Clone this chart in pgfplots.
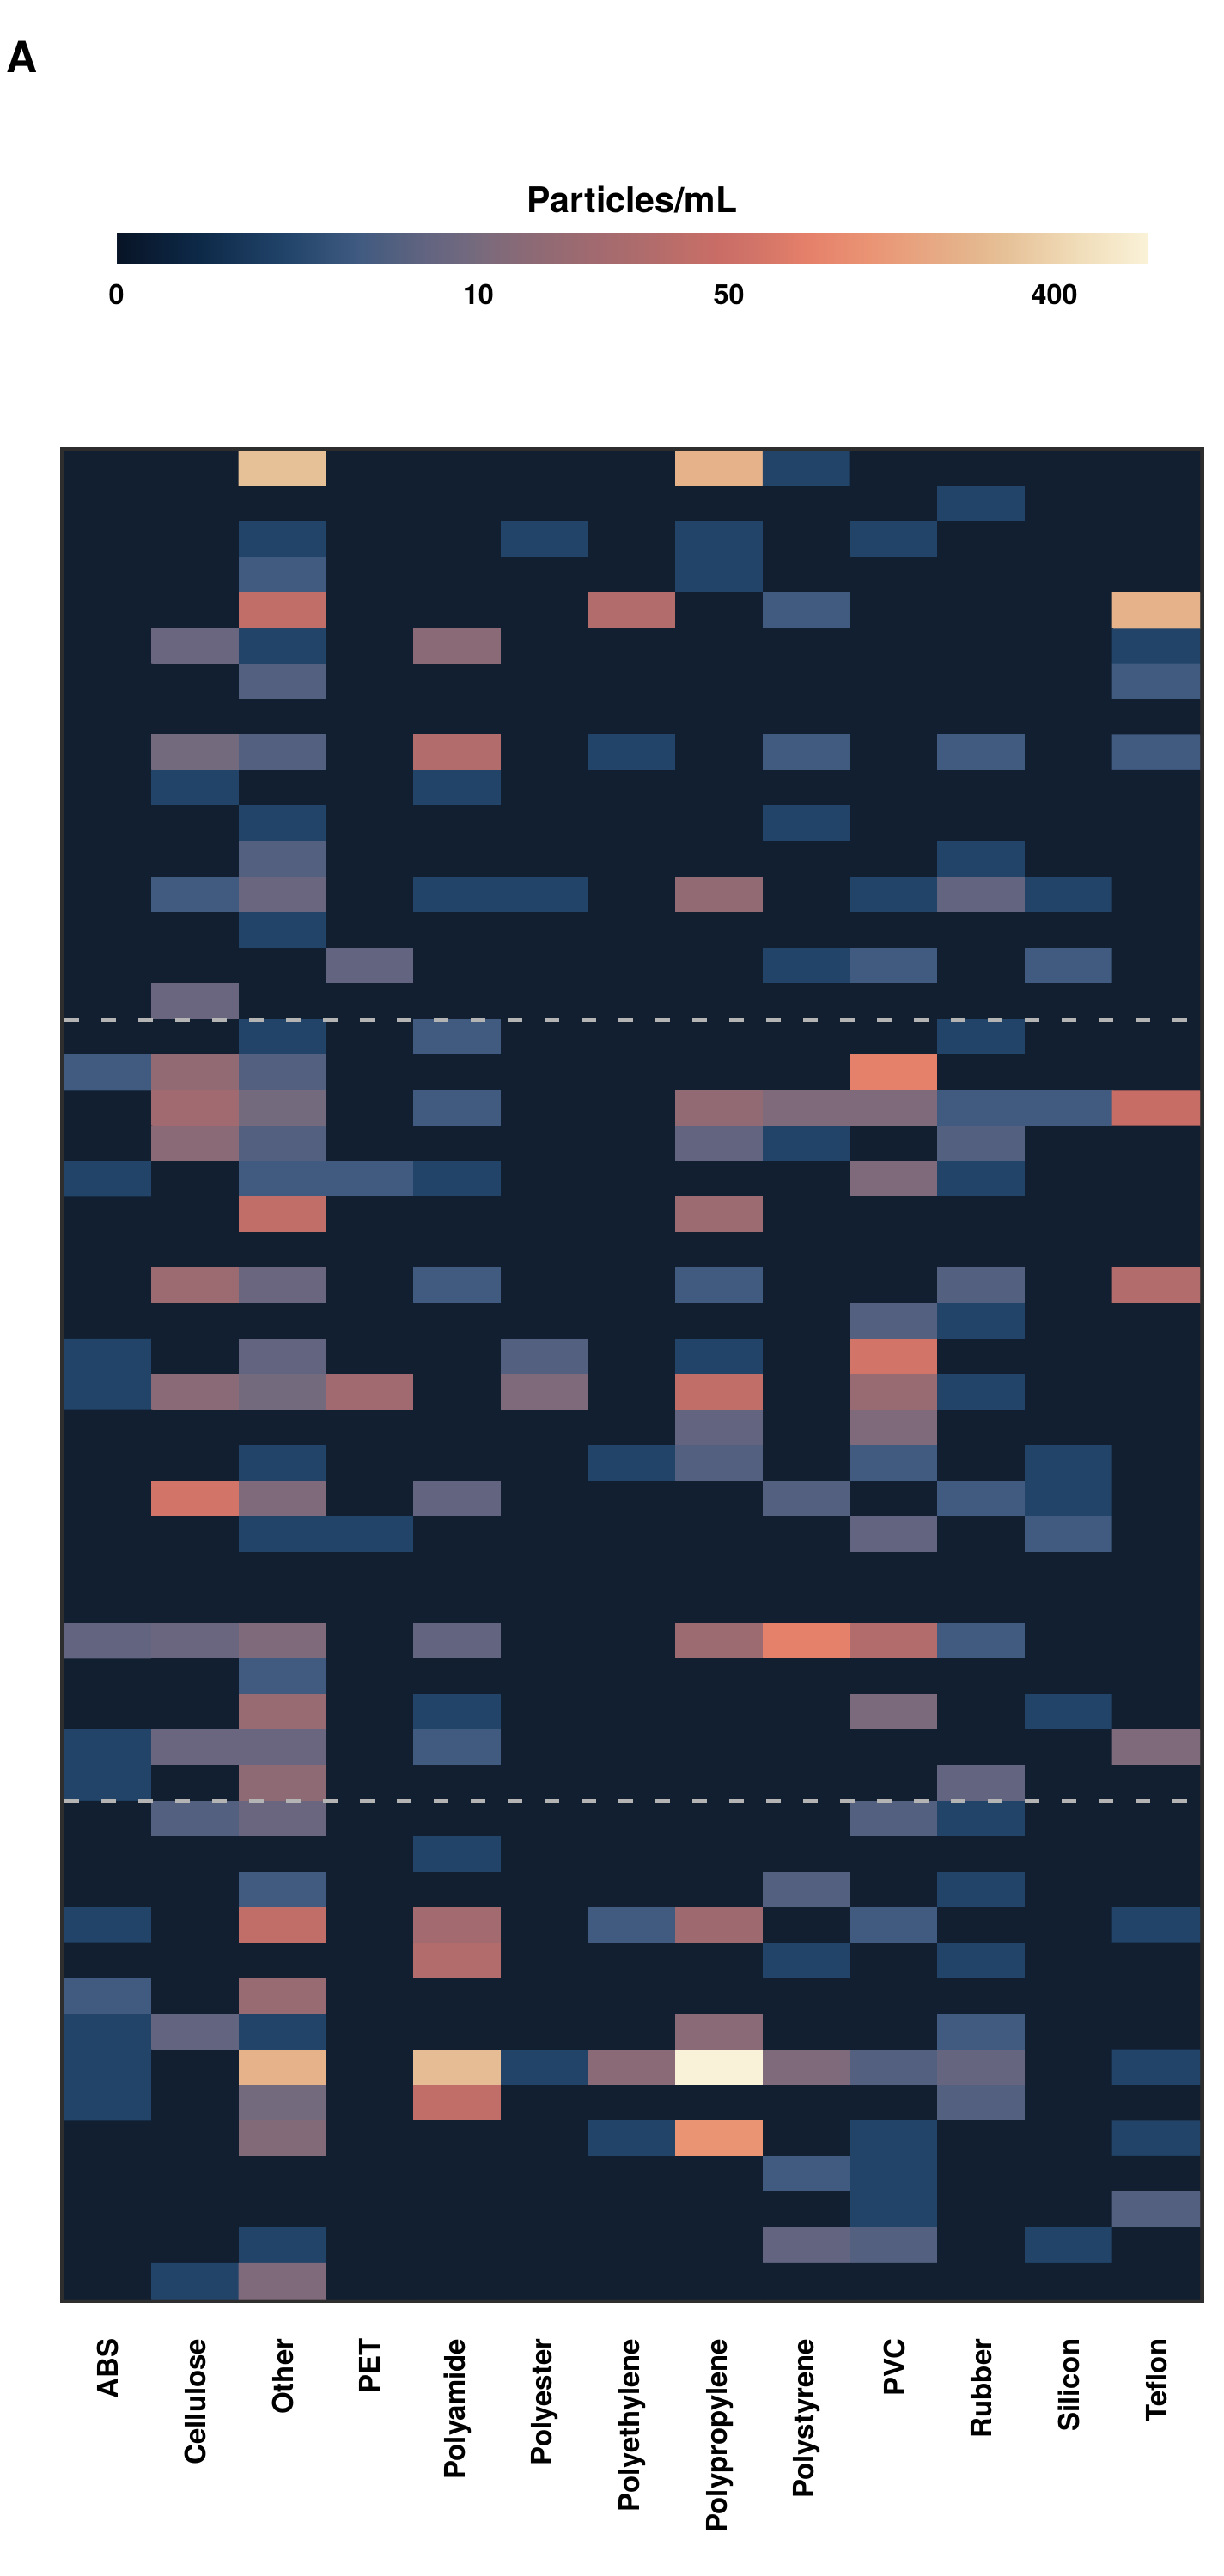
\documentclass[border=0pt]{standalone}
\usepackage{pgfplots}
\pgfplotsset{compat=1.18}
\usepackage{pgfplotstable}
\usepackage{fontspec}
\setmainfont{TeX Gyre Heros}

\definecolor{framegray}{RGB}{46,46,46}
\definecolor{dashgray}{RGB}{180,180,180}

\pgfplotsset{colormap={lipari}{
rgb255(0pt)=(17,31,49)
rgb255(1pt)=(8,20,38)
rgb255(80pt)=(13,41,72)
rgb255(165pt)=(34,68,106)
rgb255(235pt)=(64,90,128)
rgb255(270pt)=(82,96,127)
rgb255(300pt)=(98,100,128)
rgb255(320pt)=(106,102,128)
rgb255(345pt)=(116,106,126)
rgb255(365pt)=(126,106,122)
rgb255(395pt)=(138,106,118)
rgb255(420pt)=(146,106,115)
rgb255(435pt)=(152,106,114)
rgb255(460pt)=(160,106,112)
rgb255(520pt)=(178,108,107)
rgb255(560pt)=(194,110,104)
rgb255(580pt)=(200,108,102)
rgb255(620pt)=(210,116,104)
rgb255(670pt)=(229,128,106)
rgb255(730pt)=(234,148,116)
rgb255(820pt)=(229,178,138)
rgb255(860pt)=(230,192,151)
rgb255(931pt)=(240,220,184)
rgb255(1000pt)=(250,242,216)
}}

% Particles/mL, 52 samples (rows, top to bottom) x 13 polymer types (columns)
\pgfplotstableread[row sep=\\]{
v\\
0\\ 0\\ 289\\ 0\\ 0\\ 0\\ 0\\ 222\\ 2.6\\ 0\\ 0\\ 0\\ 0\\
0\\ 0\\ 0\\ 0\\ 0\\ 0\\ 0\\ 0\\ 0\\ 0\\ 2.6\\ 0\\ 0\\
0\\ 0\\ 2.6\\ 0\\ 0\\ 2.6\\ 0\\ 2.6\\ 0\\ 2.6\\ 0\\ 0\\ 0\\
0\\ 0\\ 4.5\\ 0\\ 0\\ 0\\ 0\\ 2.6\\ 0\\ 0\\ 0\\ 0\\ 0\\
0\\ 0\\ 40\\ 0\\ 0\\ 0\\ 30.7\\ 0\\ 4.5\\ 0\\ 0\\ 0\\ 222\\
0\\ 8.1\\ 2.6\\ 0\\ 13.4\\ 0\\ 0\\ 0\\ 0\\ 0\\ 0\\ 0\\ 2.6\\
0\\ 0\\ 5.8\\ 0\\ 0\\ 0\\ 0\\ 0\\ 0\\ 0\\ 0\\ 0\\ 4.5\\
0\\ 0\\ 0\\ 0\\ 0\\ 0\\ 0\\ 0\\ 0\\ 0\\ 0\\ 0\\ 0\\
0\\ 9.6\\ 5.8\\ 0\\ 30.7\\ 0\\ 2.6\\ 0\\ 4.5\\ 0\\ 4.5\\ 0\\ 4.5\\
0\\ 2.6\\ 0\\ 0\\ 2.6\\ 0\\ 0\\ 0\\ 0\\ 0\\ 0\\ 0\\ 0\\
0\\ 0\\ 2.6\\ 0\\ 0\\ 0\\ 0\\ 0\\ 2.6\\ 0\\ 0\\ 0\\ 0\\
0\\ 0\\ 5.8\\ 0\\ 0\\ 0\\ 0\\ 0\\ 0\\ 0\\ 2.6\\ 0\\ 0\\
0\\ 4.5\\ 8.1\\ 0\\ 2.6\\ 2.6\\ 0\\ 15.8\\ 0\\ 2.6\\ 7.1\\ 2.6\\ 0\\
0\\ 0\\ 2.6\\ 0\\ 0\\ 0\\ 0\\ 0\\ 0\\ 0\\ 0\\ 0\\ 0\\
0\\ 0\\ 0\\ 7.1\\ 0\\ 0\\ 0\\ 0\\ 2.6\\ 4.5\\ 0\\ 4.5\\ 0\\
0\\ 8.1\\ 0\\ 0\\ 0\\ 0\\ 0\\ 0\\ 0\\ 0\\ 0\\ 0\\ 0\\
0\\ 0\\ 2.6\\ 0\\ 4.5\\ 0\\ 0\\ 0\\ 0\\ 0\\ 2.6\\ 0\\ 0\\
4.5\\ 15.8\\ 5.8\\ 0\\ 0\\ 0\\ 0\\ 0\\ 0\\ 82.7\\ 0\\ 0\\ 0\\
0\\ 20.7\\ 9.6\\ 0\\ 4.5\\ 0\\ 0\\ 15.8\\ 11\\ 11\\ 4.5\\ 4.5\\ 45.7\\
0\\ 13.4\\ 5.8\\ 0\\ 0\\ 0\\ 0\\ 7.1\\ 2.6\\ 0\\ 5.8\\ 0\\ 0\\
2.6\\ 0\\ 4.5\\ 4.5\\ 2.6\\ 0\\ 0\\ 0\\ 0\\ 11\\ 2.6\\ 0\\ 0\\
0\\ 0\\ 40\\ 0\\ 0\\ 0\\ 0\\ 19\\ 0\\ 0\\ 0\\ 0\\ 0\\
0\\ 0\\ 0\\ 0\\ 0\\ 0\\ 0\\ 0\\ 0\\ 0\\ 0\\ 0\\ 0\\
0\\ 19\\ 8.1\\ 0\\ 4.5\\ 0\\ 0\\ 4.5\\ 0\\ 0\\ 5.8\\ 0\\ 30.7\\
0\\ 0\\ 0\\ 0\\ 0\\ 0\\ 0\\ 0\\ 0\\ 5.8\\ 2.6\\ 0\\ 0\\
2.6\\ 0\\ 7.1\\ 0\\ 0\\ 5.8\\ 0\\ 2.6\\ 0\\ 59.4\\ 0\\ 0\\ 0\\
2.6\\ 13.4\\ 9.6\\ 20.7\\ 0\\ 11\\ 0\\ 40\\ 0\\ 17.5\\ 2.6\\ 0\\ 0\\
0\\ 0\\ 0\\ 0\\ 0\\ 0\\ 0\\ 7.1\\ 0\\ 11\\ 0\\ 0\\ 0\\
0\\ 0\\ 2.6\\ 0\\ 0\\ 0\\ 2.6\\ 5.8\\ 0\\ 4.5\\ 0\\ 2.6\\ 0\\
0\\ 59.4\\ 11\\ 0\\ 7.1\\ 0\\ 0\\ 0\\ 5.8\\ 0\\ 4.5\\ 2.6\\ 0\\
0\\ 0\\ 2.6\\ 2.6\\ 0\\ 0\\ 0\\ 0\\ 0\\ 7.1\\ 0\\ 4.5\\ 0\\
0\\ 0\\ 0\\ 0\\ 0\\ 0\\ 0\\ 0\\ 0\\ 0\\ 0\\ 0\\ 0\\
0\\ 0\\ 0\\ 0\\ 0\\ 0\\ 0\\ 0\\ 0\\ 0\\ 0\\ 0\\ 0\\
7.1\\ 8.1\\ 11\\ 0\\ 7.1\\ 0\\ 0\\ 19\\ 82.7\\ 30.7\\ 4.5\\ 0\\ 0\\
0\\ 0\\ 4.5\\ 0\\ 0\\ 0\\ 0\\ 0\\ 0\\ 0\\ 0\\ 0\\ 0\\
0\\ 0\\ 17.5\\ 0\\ 2.6\\ 0\\ 0\\ 0\\ 0\\ 10.5\\ 0\\ 2.6\\ 0\\
2.6\\ 8.1\\ 8.1\\ 0\\ 4.5\\ 0\\ 0\\ 0\\ 0\\ 0\\ 0\\ 0\\ 11\\
2.6\\ 0\\ 14.5\\ 0\\ 0\\ 0\\ 0\\ 0\\ 0\\ 0\\ 7.1\\ 0\\ 0\\
0\\ 5.8\\ 8.1\\ 0\\ 0\\ 0\\ 0\\ 0\\ 0\\ 5.8\\ 2.6\\ 0\\ 0\\
0\\ 0\\ 0\\ 0\\ 2.6\\ 0\\ 0\\ 0\\ 0\\ 0\\ 0\\ 0\\ 0\\
0\\ 0\\ 4.5\\ 0\\ 0\\ 0\\ 0\\ 0\\ 5.8\\ 0\\ 2.6\\ 0\\ 0\\
2.6\\ 0\\ 40\\ 0\\ 22\\ 0\\ 4.5\\ 20\\ 0\\ 4.5\\ 0\\ 0\\ 2.6\\
0\\ 0\\ 0\\ 0\\ 30.7\\ 0\\ 0\\ 0\\ 2.6\\ 0\\ 2.6\\ 0\\ 0\\
4.5\\ 0\\ 17.5\\ 0\\ 0\\ 0\\ 0\\ 0\\ 0\\ 0\\ 0\\ 0\\ 0\\
2.6\\ 7.1\\ 2.6\\ 0\\ 0\\ 0\\ 0\\ 13.4\\ 0\\ 0\\ 4.5\\ 0\\ 0\\
2.6\\ 0\\ 222\\ 0\\ 270\\ 2.6\\ 13.4\\ 727\\ 11\\ 5.8\\ 7.6\\ 0\\ 2.6\\
2.6\\ 0\\ 9.6\\ 0\\ 40\\ 0\\ 0\\ 0\\ 0\\ 0\\ 5.8\\ 0\\ 0\\
0\\ 0\\ 12\\ 0\\ 0\\ 0\\ 2.6\\ 122.7\\ 0\\ 2.6\\ 0\\ 0\\ 2.6\\
0\\ 0\\ 0\\ 0\\ 0\\ 0\\ 0\\ 0\\ 4.5\\ 2.6\\ 0\\ 0\\ 0\\
0\\ 0\\ 0\\ 0\\ 0\\ 0\\ 0\\ 0\\ 0\\ 2.6\\ 0\\ 0\\ 5.8\\
0\\ 0\\ 2.6\\ 0\\ 0\\ 0\\ 0\\ 0\\ 7.1\\ 5.8\\ 0\\ 2.6\\ 0\\
0\\ 2.6\\ 11\\ 0\\ 0\\ 0\\ 0\\ 0\\ 0\\ 0\\ 0\\ 0\\ 0\\
}\heat

\begin{document}
\begin{tikzpicture}
\path[use as bounding box] (0,0) rectangle (427.5pt,-900pt);
\node[anchor=north west, inner sep=0pt, font=\bfseries\fontsize{15}{18}\selectfont] at (2.1pt,-14.1pt) {A};
\begin{axis}[
  scale only axis, width=396.6pt, height=645.6pt,
  at={(220.8pt,-480.3pt)}, anchor=center,
  xmin=-0.5, xmax=12.5, ymin=-0.5, ymax=51.5,
  xtick={0,...,12},
  xticklabels={ABS,Cellulose,Other,PET,Polyamide,Polyester,Polyethylene,Polypropylene,Polystyrene,PVC,Rubber,Silicon,Teflon},
  ytick=\empty,
  major tick length=0pt,
  xticklabel style={yshift=-13.8pt, rotate=90, anchor=east, inner sep=0pt, font=\bfseries\fontsize{9.9}{12}\selectfont},
  axis line style={line width=2.7pt, draw=framegray},
  colormap name=lipari,
  point meta min=0, point meta max=6.589,
  colorbar horizontal,
  colorbar style={
    scale only axis, width=360.3pt, height=10.8pt,
    at={(parent axis.north)}, anchor=south, yshift=73.9pt,
    xtick={0,2.3124,3.9124,5.9915}, xticklabels={0,10,50,400},
    major tick length=0pt,
    axis line style={draw=none},
    xticklabel style={yshift=-7.0pt, anchor=north, inner sep=0pt, font=\bfseries\fontsize{9.7}{12}\selectfont},
    title={Particles/mL},
    title style={at={(0.5,1)}, anchor=base, yshift=1.2pt, inner sep=0pt, font=\bfseries\fontsize{12.3}{15}\selectfont},
  },
]
\addplot[matrix plot*, mesh/cols=13,
  point meta={ln(\thisrow{v}/2+sqrt((\thisrow{v}/2)^2+1))}]
  table[x index=0, y index=0, x expr={mod(\coordindex,13)}, y expr={51-floor((\coordindex+0.5)/13)}] {\heat};
\addplot[draw=dashgray, line width=1.5pt, dash pattern=on 5.2pt off 7.7pt, forget plot] coordinates {(-0.5,35.5) (12.5,35.5)};
\addplot[draw=dashgray, line width=1.5pt, dash pattern=on 5.2pt off 7.7pt, forget plot] coordinates {(-0.5,13.5) (12.5,13.5)};
\end{axis}
\end{tikzpicture}
\end{document}
